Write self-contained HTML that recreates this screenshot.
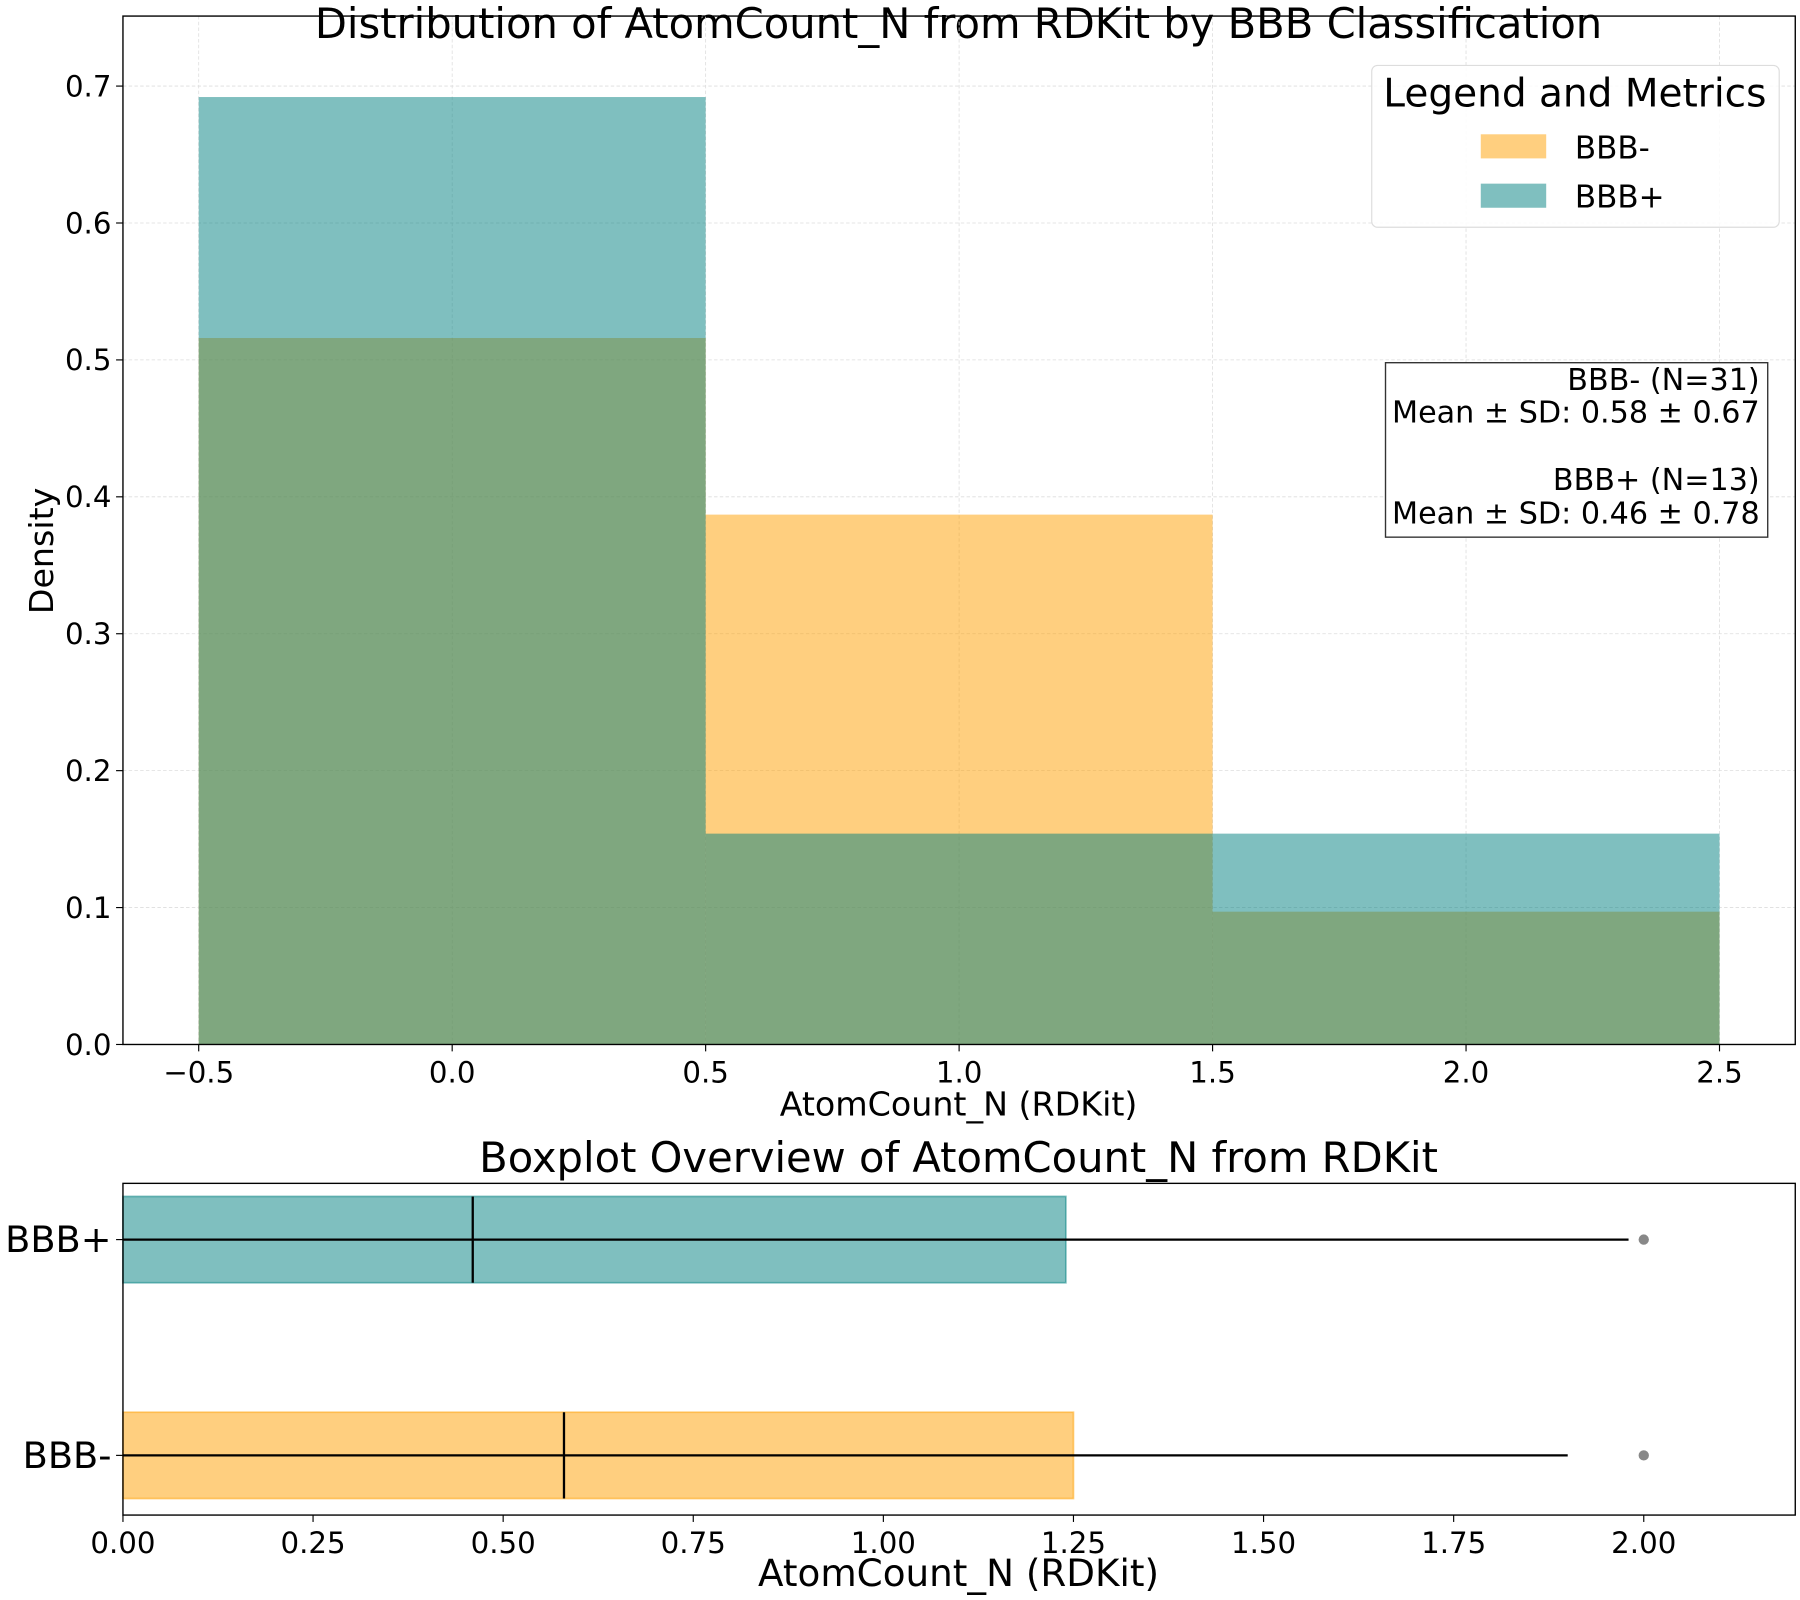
<!DOCTYPE html>
<html><head><meta charset="utf-8"><style>
html,body{margin:0;padding:0;background:#fff;}
svg{display:block;font-family:"DejaVu Sans","Liberation Sans",sans-serif;}
</style></head><body>
<svg id="chart" width="1800" height="1600" viewBox="0 0 1568 1394" xmlns="http://www.w3.org/2000/svg">
<g id="top"></g><g id="bot"></g>
</svg>
<script>
const binEdges = [-0.5, 0.5, 1.5, 2.5];
const negDensity = [0.516, 0.387, 0.097];
const posDensity = [0.692, 0.154, 0.154];
const histXTicks = [-0.5, 0.0, 0.5, 1.0, 1.5, 2.0, 2.5];
const histXTickLabels = ["\u22120.5","0.0","0.5","1.0","1.5","2.0","2.5"];
const histYTicks = [0.0,0.1,0.2,0.3,0.4,0.5,0.6,0.7];
const boxGroups = ["BBB-","BBB+"];
const boxQ1 = [0, 0];
const boxMedian = [0.58, 0.46];
const boxQ3 = [1.25, 1.24];
const boxWhiskerHi = [1.9, 1.98];
const boxOutliers = [[2.0],[2.0]];
const boxXTicks = [0,0.25,0.5,0.75,1.0,1.25,1.5,1.75,2.0];
const boxXTickLabels = ["0.00","0.25","0.50","0.75","1.00","1.25","1.50","1.75","2.00"];

const NS="http://www.w3.org/2000/svg";
function mk(parent,tag,attrs,text){const e=document.createElementNS(NS,tag);for(const k in attrs)e.setAttribute(k,attrs[k]);if(text!==undefined)e.textContent=text;parent.appendChild(e);return e;}

const T=document.getElementById('top');
const L1=107,R1=1564,Tp1=14,B1=910;
const hx=v=>173+(v+0.5)*(1498-173)/3;
const hy=v=>910-v*(910-75)/0.7;
let e;
e=mk(T,'text',{x:835,y:33,'text-anchor':'middle','font-size':36.3},'Distribution of AtomCount_N from RDKit by BBB Classification');


histXTicks.forEach((t,i)=>{
  e=mk(T,'line',{x1:hx(t),x2:hx(t),y1:Tp1,y2:B1,stroke:'#ddd','stroke-width':0.7,'stroke-dasharray':'3,2'});
  
  
});
histYTicks.forEach(t=>{
  e=mk(T,'line',{x1:L1,x2:R1,y1:hy(t),y2:hy(t),stroke:'#ddd','stroke-width':0.7,'stroke-dasharray':'3,2'});
  
  
});
negDensity.forEach((v,i)=>{
  e=mk(T,'rect',{x:hx(binEdges[i]),y:hy(v),width:hx(binEdges[i+1])-hx(binEdges[i]),height:hy(0)-hy(v),fill:'#FFA000','fill-opacity':0.5});
  
  
});
posDensity.forEach((v,i)=>{
  e=mk(T,'rect',{x:hx(binEdges[i]),y:hy(v),width:hx(binEdges[i+1])-hx(binEdges[i]),height:hy(0)-hy(v),fill:'#008080','fill-opacity':0.5});
  
  
});
e=mk(T,'rect',{x:L1,y:Tp1,width:R1-L1,height:B1-Tp1,fill:'none',stroke:'#000','stroke-width':1.2});


histXTicks.forEach((t,i)=>{
  e=mk(T,'line',{x1:hx(t),x2:hx(t),y1:B1,y2:B1+6,stroke:'#000'});
  
  
  e=mk(T,'text',{x:hx(t),y:B1+33,'text-anchor':'middle','font-size':25.5},histXTickLabels[i]);
  
  
});
histYTicks.forEach(t=>{
  e=mk(T,'line',{x1:L1-6,x2:L1,y1:hy(t),y2:hy(t),stroke:'#000'});
  
  
  e=mk(T,'text',{x:L1-10,y:hy(t)+9,'text-anchor':'end','font-size':25.5},t.toFixed(1));
  
  
});
e=mk(T,'text',{x:835,y:972,'text-anchor':'middle','font-size':29},'AtomCount_N (RDKit)');


e=mk(T,'text',{x:46,y:480,'text-anchor':'middle','font-size':29,transform:'rotate(-90 46 480)'},'Density');


const lg=mk(T,'g',{});


mk(lg,'rect',{x:1195,y:57,width:355,height:141,rx:5,fill:'#fff','fill-opacity':0.85,stroke:'#ddd'});
mk(lg,'text',{x:1372,y:93,'text-anchor':'middle','font-size':34},'Legend and Metrics');
e=mk(lg,'rect',{x:1290,y:117,width:57,height:21,fill:'#FFA000','fill-opacity':0.5});


mk(lg,'text',{x:1372,y:138,'font-size':27},'BBB-');
e=mk(lg,'rect',{x:1290,y:160,width:57,height:21,fill:'#008080','fill-opacity':0.5});


mk(lg,'text',{x:1372,y:181,'font-size':27},'BBB+');
const sb=mk(T,'g',{});


mk(sb,'rect',{x:1207,y:316,width:333,height:152,fill:'#fff',stroke:'#333','stroke-width':1.2});
[['BBB- (N=31)',340],['Mean \u00b1 SD: 0.58 \u00b1 0.67',368],['BBB+ (N=13)',427],['Mean \u00b1 SD: 0.46 \u00b1 0.78',456]].forEach(([s,y])=>{
  mk(sb,'text',{x:1533,y:y,'text-anchor':'end','font-size':26.3},s);
});

const Bt=document.getElementById('bot');
const L2=107,R2=1564,Tp2=1031,B2=1320;
const bx=v=>107+v*(1432-107)/2;
const by=p=>1268-p*(1268-1080);
e=mk(Bt,'text',{x:835,y:1021,'text-anchor':'middle','font-size':36.3},'Boxplot Overview of AtomCount_N from RDKit');


const cols=['#FFA000','#008080'];
boxGroups.forEach((g,i)=>{
  const c=by(i),h=0.2*(1268-1080);
  e=mk(Bt,'rect',{x:bx(boxQ1[i]),y:c-h,width:bx(boxQ3[i])-bx(boxQ1[i]),height:2*h,fill:cols[i],'fill-opacity':0.5,stroke:cols[i],'stroke-opacity':0.5,'stroke-width':1.5});
  
  
  e=mk(Bt,'line',{x1:bx(boxQ1[i]),x2:bx(boxWhiskerHi[i]),y1:c,y2:c,stroke:'#000','stroke-width':2});
  
  
  e=mk(Bt,'line',{x1:bx(boxMedian[i]),x2:bx(boxMedian[i]),y1:c-h,y2:c+h,stroke:'#000','stroke-width':2});
  
  
  boxOutliers[i].forEach(o=>{
    e=mk(Bt,'circle',{cx:bx(o),cy:c,r:4.5,fill:'#888'});
    
    
  });
  e=mk(Bt,'line',{x1:L2-6,x2:L2,y1:c,y2:c,stroke:'#000'});
  
  
  e=mk(Bt,'text',{x:L2-10,y:c+11,'text-anchor':'end','font-size':32},g);
  
  
});
e=mk(Bt,'rect',{x:L2,y:Tp2,width:R2-L2,height:B2-Tp2,fill:'none',stroke:'#000','stroke-width':1.2});


boxXTicks.forEach((t,i)=>{
  e=mk(Bt,'line',{x1:bx(t),x2:bx(t),y1:B2,y2:B2+6,stroke:'#000'});
  
  
  e=mk(Bt,'text',{x:bx(t),y:B2+33,'text-anchor':'middle','font-size':25.5},boxXTickLabels[i]);
  
  
});
e=mk(Bt,'text',{x:835,y:1382,'text-anchor':'middle','font-size':32.5},'AtomCount_N (RDKit)');


</script>
</body></html>
